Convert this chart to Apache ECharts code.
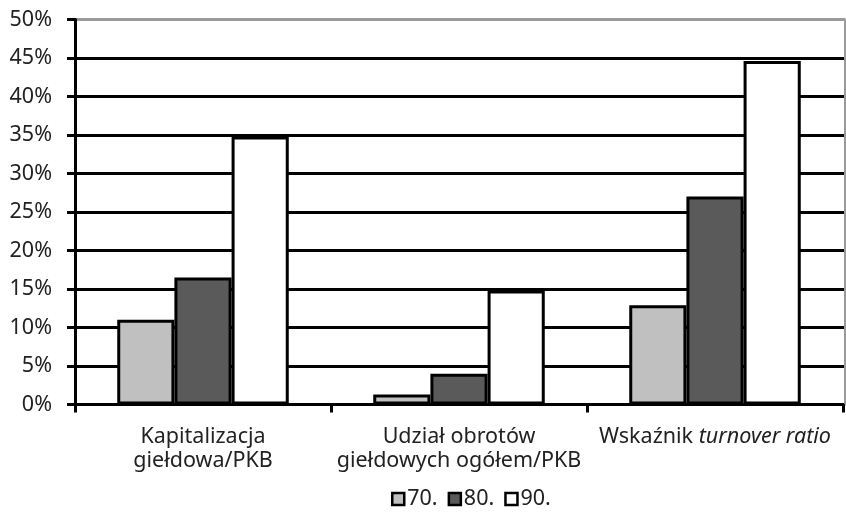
<!DOCTYPE html>
<html>
<head>
<meta charset="utf-8">
<script src="https://cdn.jsdelivr.net/npm/echarts@6/dist/echarts.min.js"></script>
<style>
  html, body { margin: 0; padding: 0; background: #fff; }
  #chart { width: 846px; height: 520px; }
</style>
</head>
<body>
<div id="chart"></div>
<script>
// Stock market indicators by decade (% of GDP)
const categories = [
  'Kapitalizacja\ngiełdowa/PKB',
  'Udział obrotów\ngiełdowych ogółem/PKB',
  '{n|Wskaźnik }{i|turnover ratio}'
];
const decades = ['70.', '80.', '90.'];
const values70 = [11.0, 1.3, 12.9];
const values80 = [16.5, 4.0, 27.0];
const values90 = [34.8, 14.8, 44.6];
const barColors = ['#c0c0c0', '#5a5a5a', '#ffffff'];

const FONT = '"Noto Sans", sans-serif';
const FS = 21.5;
const TEXT = '#222';
const yMin = 0, yMax = 50, yStep = 5;

// gridlines: black except the top one, which is grey
const lineCount = (yMax - yMin) / yStep + 1;
const gridColors = [];
for (let i = 0; i < lineCount; i++) gridColors.push(i === lineCount - 1 ? '#9a9a9a' : '#000');

const chart = echarts.init(document.getElementById('chart'), null, { renderer: 'canvas' });

const seriesData = [values70, values80, values90];

chart.setOption({
  animation: false,
  backgroundColor: '#fff',
  textStyle: { fontFamily: FONT },
  grid: [
    { left: 75, right: 3, top: 19.5, bottom: 115.5 },
    { left: 75, right: 1, top: 19.5, bottom: 115.5 }
  ],
  legend: {
    data: decades,
    bottom: 5,
    left: 386,
    icon: 'rect',
    itemWidth: 12,
    itemHeight: 12,
    itemGap: 10,
    itemStyle: { borderColor: '#000', borderWidth: 2.5 },
    textStyle: { fontFamily: FONT, fontSize: FS, color: TEXT, padding: [0, 0, 0, -2] }
  },
  xAxis: [
    {
      type: 'category',
      gridIndex: 0,
      data: categories,
      axisLine: { lineStyle: { color: '#000', width: 3 } },
      axisTick: { show: true, length: 8, lineStyle: { color: '#000', width: 3 } },
      axisLabel: {
        fontFamily: FONT,
        fontSize: FS,
        color: TEXT,
        margin: 20,
        lineHeight: 24,
        interval: 0,
        rich: {
          n: { fontFamily: FONT, fontSize: FS, color: TEXT },
          i: { fontFamily: FONT, fontSize: FS, color: TEXT, fontStyle: 'italic' }
        }
      },
      z: 5
    },
    {
      type: 'value',
      gridIndex: 1,
      show: false,
      min: 0,
      max: 1
    }
  ],
  yAxis: [
    {
      type: 'value',
      gridIndex: 0,
      min: yMin,
      max: yMax,
      interval: yStep,
      axisLine: { show: true, lineStyle: { color: '#000', width: 3 } },
      axisTick: { show: true, length: 8, lineStyle: { color: '#000', width: 3 } },
      axisLabel: {
        formatter: '{value}%',
        fontFamily: FONT,
        fontSize: FS,
        color: TEXT,
        margin: 23
      },
      splitLine: { show: false },
      z: 5
    },
    {
      type: 'value',
      gridIndex: 1,
      min: yMin,
      max: yMax,
      interval: yStep,
      axisLine: { show: false },
      axisTick: { show: false },
      axisLabel: { show: false },
      splitLine: { show: true, lineStyle: { color: gridColors, width: 3 } },
      z: 0
    },
    {
      type: 'value',
      gridIndex: 1,
      position: 'right',
      min: yMin,
      max: yMax,
      interval: yStep,
      axisLine: { show: true, lineStyle: { color: '#9a9a9a', width: 2 } },
      axisTick: { show: false },
      axisLabel: { show: false },
      splitLine: { show: false }
    }
  ],
  series: decades.map((name, k) => ({
    name: name,
    type: 'bar',
    xAxisIndex: 0,
    yAxisIndex: 0,
    data: seriesData[k],
    barGap: '0%',
    barCategoryGap: '33%',
    itemStyle: { color: barColors[k], borderColor: '#000', borderWidth: 3 },
    z: 3
  }))
});
</script>
</body>
</html>
